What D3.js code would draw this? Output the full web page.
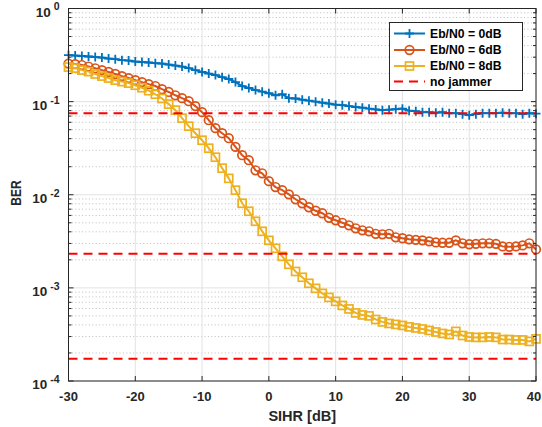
<!DOCTYPE html>
<html>
<head>
<meta charset="utf-8">
<script src="https://cdn.jsdelivr.net/npm/d3@7"></script>
<style>
  html, body { margin: 0; padding: 0; background: #fff; }
  svg { display: block; font-family: "Liberation Sans", Arial, sans-serif; font-weight: bold; }
</style>
</head>
<body>
<div id="container"></div>
<script>
// SIHR axis (dB), one point per dB
var sihr = [-30,-29,-28,-27,-26,-25,-24,-23,-22,-21,
            -20,-19,-18,-17,-16,-15,-14,-13,-12,-11,
            -10,-9,-8,-7,-6,-5,-4,-3,-2,-1,
            0,1,2,3,4,5,6,7,8,9,
            10,11,12,13,14,15,16,17,18,19,
            20,21,22,23,24,25,26,27,28,29,
            30,31,32,33,34,35,36,37,38,39,40];

var ber0dB = [0.316,0.312,0.309,0.305,0.301,0.297,0.290,0.286,0.279,0.276,
              0.269,0.266,0.263,0.259,0.256,0.250,0.244,0.238,0.229,0.218,
              0.208,0.200,0.193,0.183,0.175,0.162,0.147,0.140,0.133,0.128,
              0.123,0.117,0.120,0.109,0.108,0.105,0.1025,0.100,0.0975,0.0952,
              0.0928,0.0917,0.0895,0.0873,0.0862,0.0841,0.0825,0.0810,0.0820,0.0830,
              0.0841,0.0800,0.0790,0.0771,0.0771,0.0761,0.0771,0.0752,0.0752,0.0734,
              0.0716,0.0734,0.0752,0.0752,0.0752,0.0761,0.0752,0.0752,0.0734,0.0752,0.0743];

var ber6dB = [0.256,0.253,0.247,0.238,0.228,0.218,0.208,0.198,0.188,0.179,
              0.170,0.162,0.154,0.147,0.136,0.127,0.117,0.109,0.101,0.0895,
              0.0771,0.0632,0.0519,0.0458,0.0405,0.0327,0.0266,0.0235,0.0183,0.0170,
              0.0140,0.0121,0.0112,0.0101,0.00894,0.00810,0.00734,0.00673,0.00633,0.00566,
              0.00532,0.00500,0.00470,0.00436,0.00415,0.00405,0.00381,0.00376,0.00381,0.00349,
              0.00341,0.00332,0.00328,0.00324,0.00316,0.00308,0.00305,0.00305,0.00324,0.00301,
              0.00294,0.00297,0.00301,0.00301,0.00297,0.00279,0.00276,0.00279,0.00286,0.00301,0.00259];

var ber8dB = [0.235,0.229,0.218,0.210,0.198,0.188,0.179,0.170,0.164,0.158,
              0.150,0.141,0.131,0.120,0.108,0.0940,0.0810,0.0665,0.0545,0.0458,
              0.0385,0.0316,0.0253,0.0193,0.0150,0.0112,0.00810,0.00665,0.00519,0.00405,
              0.00324,0.00266,0.00218,0.00179,0.00150,0.00130,0.00112,0.000988,0.000873,0.000790,
              0.000716,0.000648,0.000594,0.000538,0.000512,0.000500,0.000458,0.000431,0.000415,0.000405,
              0.000395,0.000381,0.000371,0.000362,0.000349,0.000336,0.000324,0.000316,0.000341,0.000308,
              0.000297,0.000294,0.000294,0.000297,0.000294,0.000279,0.000279,0.000276,0.000276,0.000266,0.000283];

// no-jammer reference levels for 0, 6, 8 dB
var noJammer = [0.0751, 0.00233, 0.000173];

var xTicks = [-30, -20, -10, 0, 10, 20, 30, 40];
var yTickExp = [0, -1, -2, -3, -4];
var legendLabels = ["Eb/N0 = 0dB", "Eb/N0 = 6dB", "Eb/N0 = 8dB", "no jammer"];

var width = 542, height = 427;
var margin = {top: 8.5, right: 6, bottom: 46, left: 68.5};
var axisColor = "#262626";

var svg = d3.select("div#container")
  .append("svg")
  .attr("width", width)
  .attr("height", height);

var x = d3.scaleLinear().domain([-30, 40]).range([margin.left, width - margin.right]);
var y = d3.scaleLog().domain([1e-4, 1]).range([height - margin.bottom, margin.top]);

var x0 = x.range()[0], x1 = x.range()[1];
var yb = y.range()[0], yt = y.range()[1];

// minor y values (2..9 per decade)
var yMinor = [];
yTickExp.forEach(function(e) {
  if (e === 0) return;
  for (var m = 2; m <= 9; m++) yMinor.push(m * Math.pow(10, e));
});

// grid
svg.append("g").selectAll("line").data(yMinor).enter().append("line")
  .attr("x1", x0).attr("x2", x1)
  .attr("y1", function(d) { return y(d); }).attr("y2", function(d) { return y(d); })
  .style("stroke", "#bdbdbd").style("stroke-width", 1).style("stroke-dasharray", "1,2.4");

svg.append("g").selectAll("line").data(xTicks).enter().append("line")
  .attr("x1", function(d) { return x(d); }).attr("x2", function(d) { return x(d); })
  .attr("y1", yb).attr("y2", yt)
  .style("stroke", "#e2e2e2").style("stroke-width", 1);

svg.append("g").selectAll("line").data(yTickExp).enter().append("line")
  .attr("x1", x0).attr("x2", x1)
  .attr("y1", function(d) { return y(Math.pow(10, d)); }).attr("y2", function(d) { return y(Math.pow(10, d)); })
  .style("stroke", "#e2e2e2").style("stroke-width", 1);

// series
var series = [
  {values: ber0dB, color: "#0072BD", marker: "plus"},
  {values: ber6dB, color: "#D95319", marker: "circle"},
  {values: ber8dB, color: "#EDB120", marker: "square"}
];

var line = d3.line()
  .x(function(d) { return x(d[0]); })
  .y(function(d) { return y(d[1]); });

function drawMarker(g, type, color, cx, cy) {
  if (type === "plus") {
    g.append("path")
      .attr("d", "M" + (cx - 4.5) + "," + cy + "H" + (cx + 4.5) + "M" + cx + "," + (cy - 4.5) + "V" + (cy + 4.5))
      .style("stroke", color).style("stroke-width", 1.8).style("fill", "none");
  } else if (type === "circle") {
    g.append("circle").attr("cx", cx).attr("cy", cy).attr("r", 4.3)
      .style("stroke", color).style("stroke-width", 1.7).style("fill", "none");
  } else if (type === "square") {
    g.append("rect").attr("x", cx - 4).attr("y", cy - 4).attr("width", 8).attr("height", 8)
      .style("stroke", color).style("stroke-width", 1.7).style("fill", "none");
  }
}

series.forEach(function(s) {
  var pts = sihr.map(function(v, i) { return [v, s.values[i]]; });
  var g = svg.append("g");
  g.append("path").datum(pts).attr("d", line)
    .style("fill", "none").style("stroke", s.color).style("stroke-width", 2);
  pts.forEach(function(p) { drawMarker(g, s.marker, s.color, x(p[0]), y(p[1])); });
});

// no jammer lines
svg.append("g").selectAll("line").data(noJammer).enter().append("line")
  .attr("x1", x0).attr("x2", x1)
  .attr("y1", function(d) { return y(d); }).attr("y2", function(d) { return y(d); })
  .style("stroke", "#FF0000").style("stroke-width", 2).style("stroke-dasharray", "9,6");

// box + ticks
svg.append("rect").attr("x", x0).attr("y", yt).attr("width", x1 - x0).attr("height", yb - yt)
  .style("fill", "none").style("stroke", axisColor).style("stroke-width", 1);

var ticks = svg.append("g").style("stroke", axisColor).style("stroke-width", 1);
xTicks.forEach(function(d) {
  ticks.append("line").attr("x1", x(d)).attr("x2", x(d)).attr("y1", yb).attr("y2", yb - 5);
  ticks.append("line").attr("x1", x(d)).attr("x2", x(d)).attr("y1", yt).attr("y2", yt + 5);
});
yTickExp.forEach(function(e) {
  var yy = y(Math.pow(10, e));
  ticks.append("line").attr("x1", x0).attr("x2", x0 + 5).attr("y1", yy).attr("y2", yy);
  ticks.append("line").attr("x1", x1).attr("x2", x1 - 5).attr("y1", yy).attr("y2", yy);
});
yMinor.forEach(function(d) {
  var yy = y(d);
  ticks.append("line").attr("x1", x0).attr("x2", x0 + 3).attr("y1", yy).attr("y2", yy);
  ticks.append("line").attr("x1", x1).attr("x2", x1 - 3).attr("y1", yy).attr("y2", yy);
});

// tick labels (last one pulled in so it stays inside the window, as in the figure)
svg.append("g").selectAll("text").data(xTicks).enter().append("text")
  .attr("x", function(d) { return Math.min(x(d), width - 8); }).attr("y", 401)
  .attr("text-anchor", "middle").style("font-size", "13px").style("fill", axisColor)
  .text(function(d) { return d; });

yTickExp.forEach(function(e) {
  var yy = y(Math.pow(10, e));
  var t = svg.append("text").attr("x", 59.5).attr("y", yy + 8.4)
    .attr("text-anchor", "end").style("font-size", "13.5px").style("fill", axisColor);
  t.append("tspan").text("10");
  t.append("tspan").attr("dx", 3).attr("dy", -6.5).style("font-size", "10.5px").text(e);
});

// axis labels
svg.append("text").attr("x", (x0 + x1) / 2).attr("y", 420.5)
  .attr("text-anchor", "middle").style("font-size", "14.5px").style("fill", axisColor)
  .text("SIHR [dB]");

svg.append("text")
  .attr("transform", "translate(20.5,193) rotate(-90) scale(0.8,1)")
  .attr("text-anchor", "middle").style("font-size", "15px").style("fill", axisColor)
  .text("BER");

// legend
var lg = svg.append("g");
lg.append("rect").attr("x", 389.5).attr("y", 22.5).attr("width", 133).attr("height", 68)
  .style("fill", "#fff").style("stroke", axisColor).style("stroke-width", 1);
var rowY = [33.5, 50, 66, 81.5];
legendLabels.forEach(function(lbl, i) {
  var ry = rowY[i];
  if (i < 3) {
    lg.append("line").attr("x1", 394).attr("x2", 425).attr("y1", ry).attr("y2", ry)
      .style("stroke", series[i].color).style("stroke-width", 2);
    drawMarker(lg, series[i].marker, series[i].color, 409.5, ry);
  } else {
    lg.append("line").attr("x1", 394).attr("x2", 425).attr("y1", ry).attr("y2", ry)
      .style("stroke", "#FF0000").style("stroke-width", 2).style("stroke-dasharray", "9,6");
  }
  lg.append("text").attr("x", 430).attr("y", ry + 4.3)
    .style("font-size", "12.2px").style("fill", "#000").text(lbl);
});
</script>
</body>
</html>
